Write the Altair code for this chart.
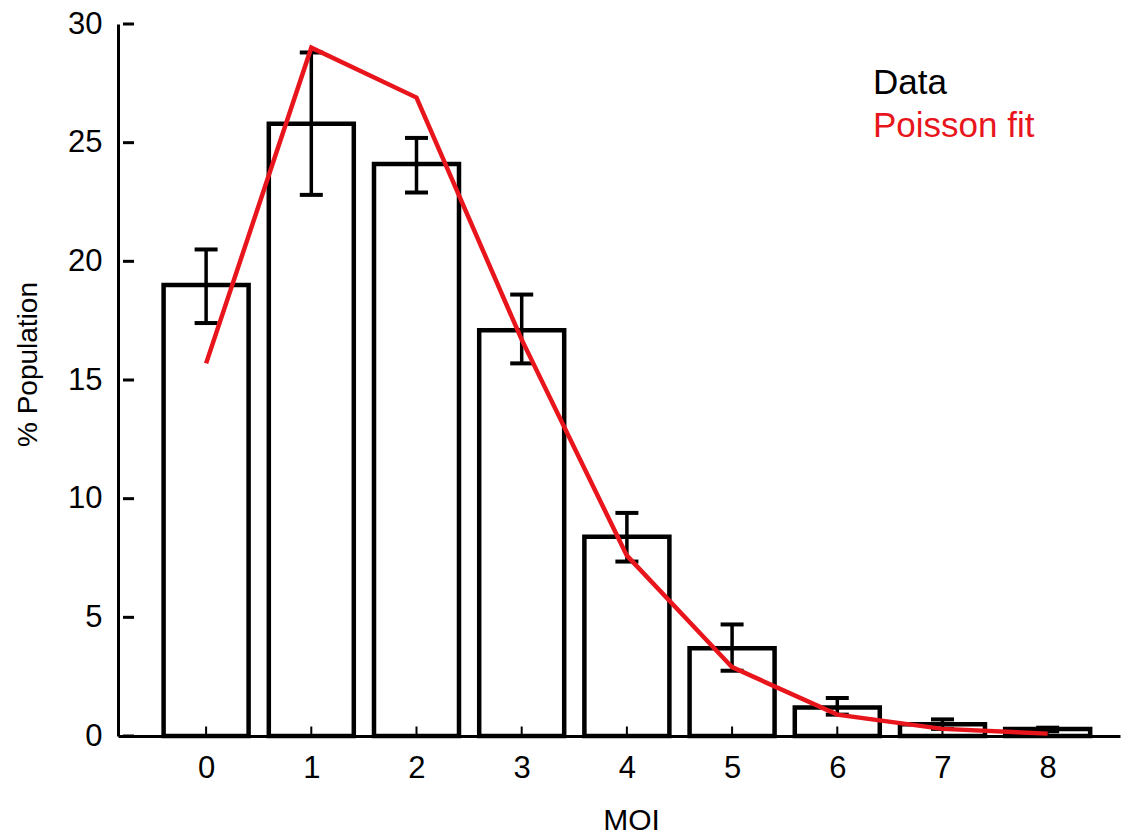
import altair as alt
import pandas as pd

moi = [0, 1, 2, 3, 4, 5, 6, 7, 8]
data_pct = [19.0, 25.8, 24.1, 17.1, 8.4, 3.7, 1.2, 0.5, 0.3]
err_low = [17.4, 22.8, 22.9, 15.7, 7.35, 2.75, 0.9, 0.3, 0.2]
err_high = [20.5, 28.8, 25.2, 18.6, 9.4, 4.7, 1.6, 0.7, 0.35]
poisson_fit = [15.7, 29.0, 26.9, 16.7, 7.6, 2.9, 0.9, 0.3, 0.1]
y_ticks = [0, 5, 10, 15, 20, 25, 30]

FONT = "Liberation Sans"
RED = "#e8161c"
W, H = 1002, 712
XMIN, XMAX = -0.79, 8.64

df = pd.DataFrame({"moi": moi, "pct": data_pct, "lo": err_low, "hi": err_high, "fit": poisson_fit})
yt = pd.DataFrame({"v": y_ticks})

xscale = alt.Scale(domain=[XMIN, XMAX], nice=False, zero=False)
yscale = alt.Scale(domain=[0, 30], nice=False)

xaxis = alt.Axis(values=moi, format="d", ticks=False, grid=False, domainColor="black", domainWidth=3,
                 labelFont=FONT, labelFontSize=31, labelColor="black", labelPadding=17,
                 title="MOI", titleFont=FONT, titleFontSize=30, titleFontWeight="normal",
                 titleColor="black", titlePadding=22, titleX=513)
yaxis = alt.Axis(values=y_ticks, format="d", ticks=False, grid=False, domainColor="black", domainWidth=3,
                 labelFont=FONT, labelFontSize=31, labelColor="black", labelPadding=16,
                 title="% Population", titleFont=FONT, titleFontSize=28, titleFontWeight="normal",
                 titleColor="black", titlePadding=25, titleY=340)

base = alt.Chart(df)

bars = base.mark_bar(size=85, fill="white", stroke="black", strokeWidth=4.5).encode(
    x=alt.X("moi:Q", scale=xscale, axis=xaxis),
    y=alt.Y("pct:Q", scale=yscale, axis=yaxis),
)

# inward tick marks
xticks = base.mark_rule(color="black", strokeWidth=2, opacity=1).encode(
    x=alt.X("moi:Q", scale=xscale),
    y=alt.datum(0, scale=yscale), y2=alt.datum(0.4),
)
yticks = alt.Chart(yt).mark_rule(color="black", strokeWidth=3, opacity=1).encode(
    y=alt.Y("v:Q", scale=yscale),
    x=alt.datum(XMIN, scale=xscale), x2=alt.datum(XMIN + 0.105),
)

err = base.mark_rule(color="black", strokeWidth=3.5, opacity=1).encode(
    x=alt.X("moi:Q", scale=xscale),
    y=alt.Y("lo:Q", scale=yscale),
    y2="hi:Q",
)
cap_lo = base.mark_tick(color="black", size=23, thickness=4, orient="horizontal", opacity=1).encode(
    x=alt.X("moi:Q", scale=xscale), y=alt.Y("lo:Q", scale=yscale))
cap_hi = base.mark_tick(color="black", size=23, thickness=4, orient="horizontal", opacity=1).encode(
    x=alt.X("moi:Q", scale=xscale), y=alt.Y("hi:Q", scale=yscale))

line = base.mark_line(color=RED, strokeWidth=4.5).encode(
    x=alt.X("moi:Q", scale=xscale), y=alt.Y("fit:Q", scale=yscale))

leg1 = alt.Chart(pd.DataFrame({"t": ["Data"]})).mark_text(
    font=FONT, fontSize=35, color="black", align="left", baseline="alphabetic").encode(
    text="t:N", x=alt.value(755), y=alt.value(70))
leg2 = alt.Chart(pd.DataFrame({"t": ["Poisson fit"]})).mark_text(
    font=FONT, fontSize=35, color=RED, align="left", baseline="alphabetic").encode(
    text="t:N", x=alt.value(755), y=alt.value(113))

chart = alt.layer(bars, xticks, yticks, err, cap_lo, cap_hi, line, leg1, leg2).properties(
    width=W, height=H,
    autosize=alt.AutoSizeParams(type="none"),
    padding={"left": 118, "top": 24, "right": 13, "bottom": 102},
    background="white",
).configure_view(stroke=None)

chart.save("out.html", embed_options={"renderer": "svg", "actions": False})
